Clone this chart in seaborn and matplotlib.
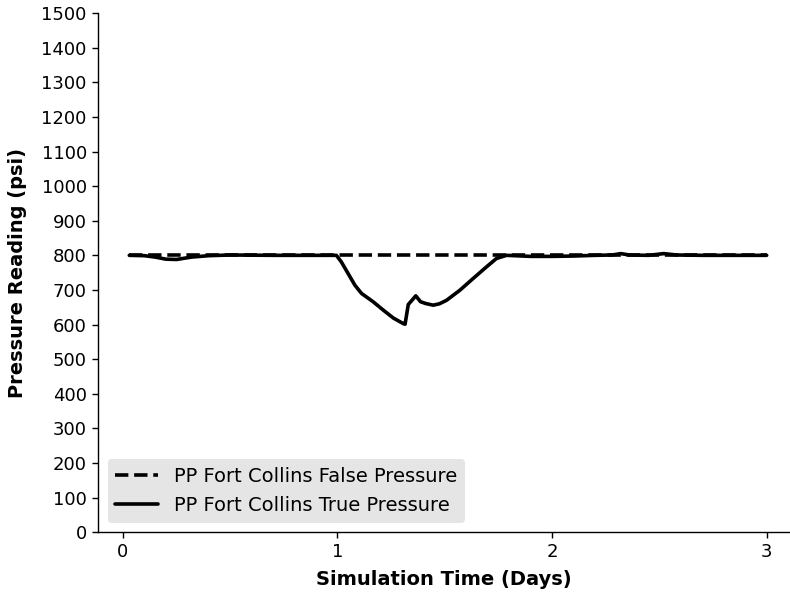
import numpy as np
import pandas as pd
import matplotlib
matplotlib.use("Agg")
import matplotlib.pyplot as plt
import seaborn as sns

# Simulation time (days) and pressure readings (psi)
false_time = [0.03, 3.0]
false_pressure = [800, 800]

true_time = [0.03, 0.10, 0.15, 0.20, 0.25, 0.32, 0.40, 0.50, 0.70, 0.90, 0.995,
             1.018, 1.05, 1.081, 1.112, 1.166, 1.213, 1.26, 1.306, 1.315,
             1.33, 1.365, 1.387, 1.41, 1.446, 1.475, 1.508, 1.57, 1.632,
             1.695, 1.741, 1.788, 1.90, 2.00, 2.10, 2.20, 2.28, 2.32, 2.36,
             2.45, 2.52, 2.58, 2.70, 2.85, 3.00]
true_pressure = [800, 799, 795, 789, 788, 795, 799, 801, 800, 800, 800,
                 781, 747, 714, 690, 666, 642, 619, 603, 601,
                 658, 683, 666, 661, 656, 660, 670, 699, 733,
                 767, 791, 800, 797, 797, 798, 800, 801, 805, 801,
                 800, 805, 801, 800, 800, 800]

series_names = ["PP Fort Collins False Pressure", "PP Fort Collins True Pressure"]

df = pd.concat([
    pd.DataFrame({"time": false_time, "pressure": false_pressure, "series": series_names[0]}),
    pd.DataFrame({"time": true_time, "pressure": true_pressure, "series": series_names[1]}),
], ignore_index=True)

sns.set_style("ticks")
plt.rcParams["font.family"] = ["DejaVu Sans"]
plt.rcParams["text.color"] = "black"
plt.rcParams["axes.labelcolor"] = "black"

fig = plt.figure(figsize=(7.9, 5.94), dpi=100)
ax = fig.add_axes([0.124, 0.104, 0.875, 0.874])

sns.lineplot(data=df, x="time", y="pressure", style="series",
             style_order=series_names,
             dashes={series_names[0]: (3.7, 1.6), series_names[1]: ""},
             color="black", linewidth=2.6, ax=ax, sort=False)

ax.set_ylim(0, 1500)
ax.set_yticks(np.arange(0, 1501, 100))
ax.set_xticks([0, 1, 2, 3])
ax.set_xlim(-0.116, 3.105)
ax.tick_params(labelsize=13, colors="black", width=1, length=4.5)
ax.set_xlabel("Simulation Time (Days)", fontsize=14, fontweight="bold",
              color="black", labelpad=6)
ax.set_ylabel("Pressure Reading (psi)", fontsize=14, fontweight="bold",
              color="black", labelpad=10.5)
for side in ("top", "right"):
    ax.spines[side].set_visible(False)
for side in ("left", "bottom"):
    ax.spines[side].set_color("black")
    ax.spines[side].set_linewidth(1)

leg = ax.legend(loc="lower left", fontsize=14, frameon=True, facecolor="#e5e5e5",
                edgecolor="none", framealpha=1, handlelength=2.2)
leg.set_title(None)
for t in leg.get_texts():
    t.set_color("black")

fig.savefig("out.png", dpi=100)
